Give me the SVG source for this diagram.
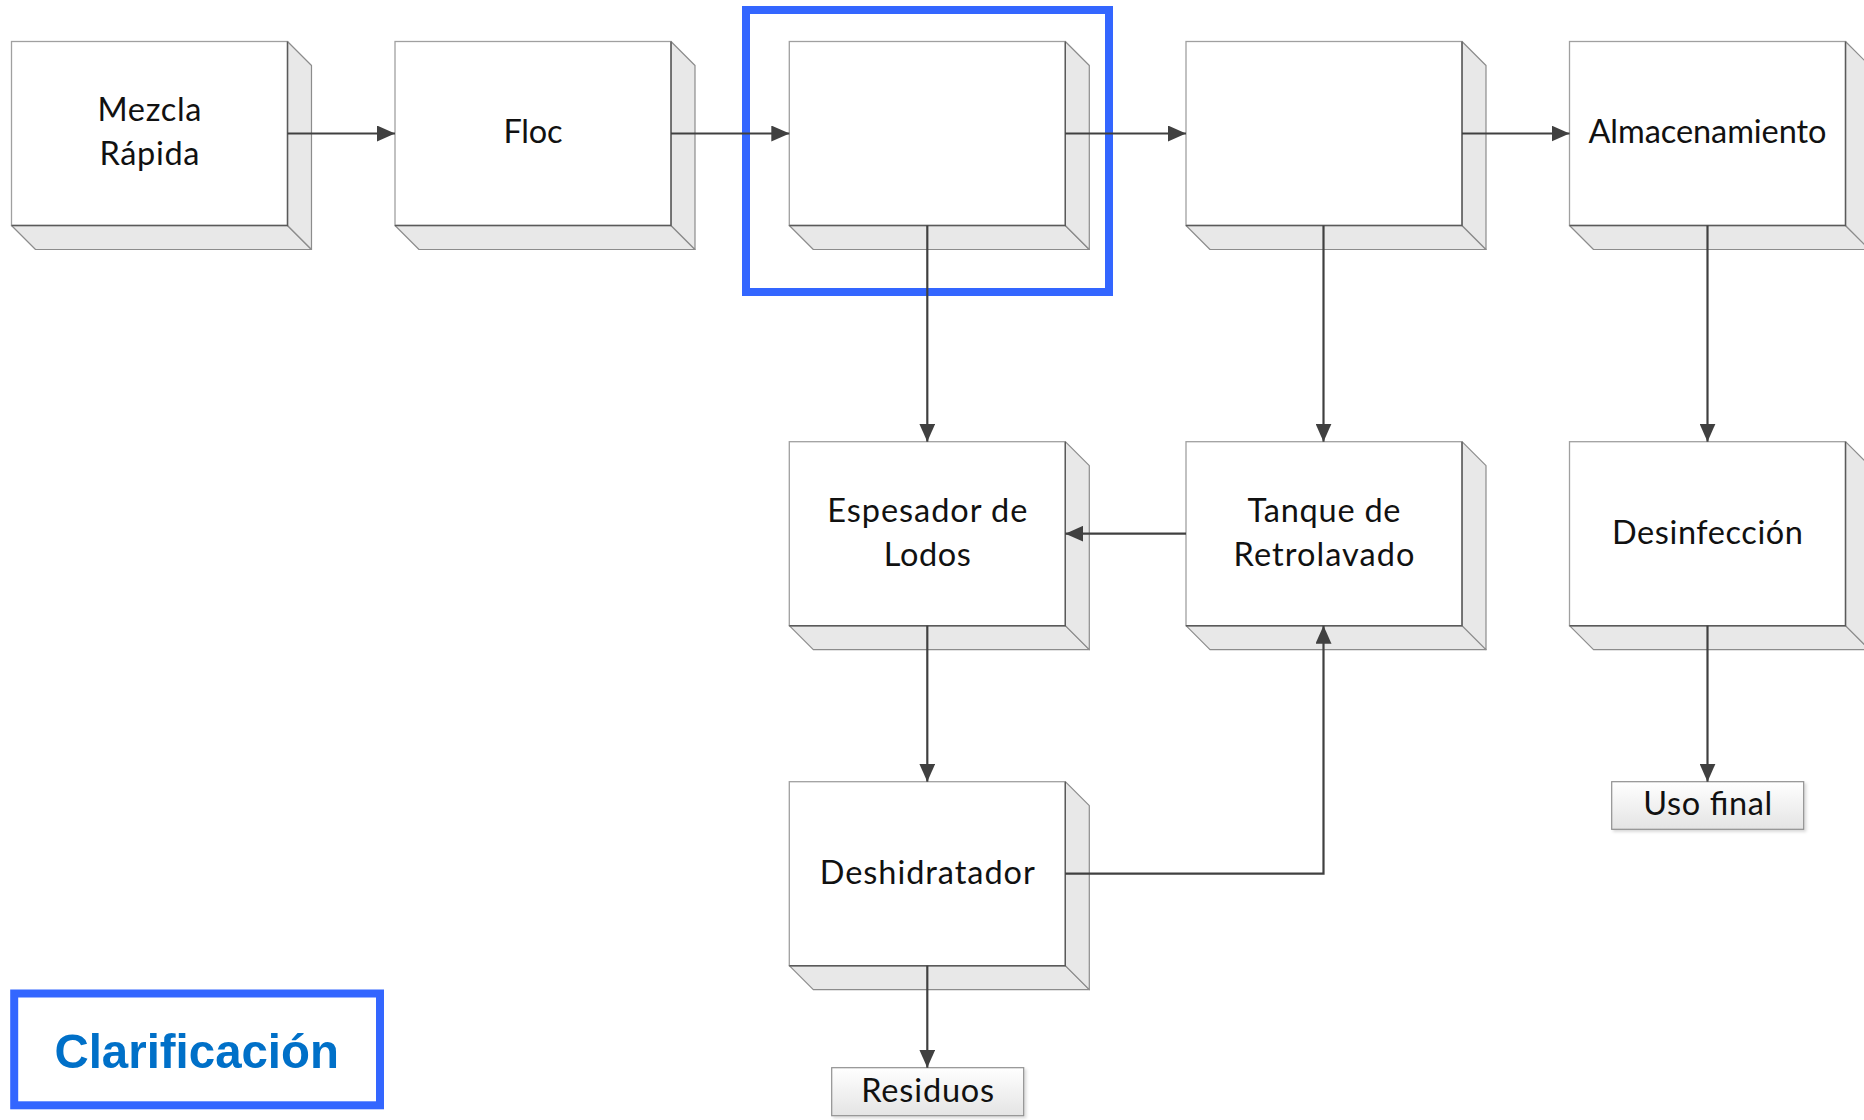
<svg xmlns="http://www.w3.org/2000/svg" width="1864" height="1120" viewBox="0 0 1864 1120">
<style>
.front{fill:#ffffff;stroke:#a0a0a0;stroke-width:1.3}
.edge{stroke:#5a5a5a;stroke-width:1.4;fill:none}
.depth{fill:#e8e8e8;stroke:#8c8c8c;stroke-width:1.2;stroke-linejoin:round}
.lbl{font-family:Lato,"Open Sans",sans-serif;font-size:32.5px;fill:#111111;text-anchor:middle}
.conn{stroke:#404040;stroke-width:2.2;fill:none}
.small{fill:url(#sg);stroke:#909090;stroke-width:1.2}
.hl{fill:none;stroke:#3366ff;stroke-width:8}
</style>
<defs>
<marker id="ah" markerUnits="userSpaceOnUse" markerWidth="18" markerHeight="16" refX="18" refY="8" orient="auto">
<path d="M0,0 L18,8 L0,16 z" fill="#404040"/>
</marker>
<linearGradient id="sg" x1="0" y1="0" x2="0" y2="1">
<stop offset="0" stop-color="#ffffff"/>
<stop offset="1" stop-color="#e4e4e4"/>
</linearGradient>
<filter id="sh" x="-10%" y="-20%" width="130%" height="160%">
<feDropShadow dx="2" dy="2" stdDeviation="1.5" flood-color="#000" flood-opacity="0.15"/>
</filter>
<g id="box3d">
<polygon class="depth" points="0,184 276,184 300,208 24,208"/>
<polygon class="depth" points="276,0 300,24 300,208 276,184"/>
<rect class="front" x="0" y="0" width="276" height="184"/>
<polyline class="edge" points="0,184 276,184 276,0"/>
</g>
</defs>

<g id="node-mezcla"><use href="#box3d" x="11.5" y="41.5"/><text class="lbl" x="149.5" y="121" textLength="104">Mezcla</text><text class="lbl" x="149.5" y="165" textLength="100">Rápida</text></g>
<g id="node-floc"><use href="#box3d" x="395" y="41.5"/><text class="lbl" x="533" y="143" textLength="59">Floc</text></g>
<g id="node-clarif"><use href="#box3d" x="789.3" y="41.5"/></g>
<g id="node-filtro"><use href="#box3d" x="1186" y="41.5"/></g>
<g id="node-almac"><use href="#box3d" x="1569.5" y="41.5"/><text class="lbl" x="1707.5" y="143" textLength="238">Almacenamiento</text></g>
<g id="node-espesador"><use href="#box3d" x="789.3" y="441.7"/><text class="lbl" x="927.3" y="521.5" textLength="200">Espesador de</text><text class="lbl" x="927.3" y="565.5" textLength="87">Lodos</text></g>
<g id="node-tanque"><use href="#box3d" x="1186" y="441.7"/><text class="lbl" x="1324" y="521.5" textLength="153">Tanque de</text><text class="lbl" x="1324" y="565.5" textLength="181">Retrolavado</text></g>
<g id="node-desinf"><use href="#box3d" x="1569.5" y="441.7"/><text class="lbl" x="1707.5" y="543.5" textLength="191">Desinfección</text></g>
<g id="node-deshid"><use href="#box3d" x="789.3" y="781.7"/><text class="lbl" x="927.3" y="883.5" textLength="215">Deshidratador</text></g>
<g id="node-residuos"><rect class="small" filter="url(#sh)" x="831.7" y="1067.7" width="192" height="48"/><text class="lbl" x="927.7" y="1101.5" textLength="133">Residuos</text></g>
<g id="node-uso"><rect class="small" filter="url(#sh)" x="1611.7" y="781.7" width="192" height="47.6"/><text class="lbl" x="1707.7" y="814.5" textLength="129">Uso final</text></g>

<g id="highlight"><rect class="hl" x="746" y="10" width="363" height="282"/></g>
<g id="legend"><rect class="hl" x="14.2" y="993.5" width="365.8" height="111.8"/><text x="196.7" y="1068.3" font-family="Liberation Sans, Arial, sans-serif" font-weight="bold" font-size="49" fill="#0070c8" text-anchor="middle" textLength="284.5" lengthAdjust="spacingAndGlyphs">Clarificación</text></g>

<g id="connectors">
<line class="conn" x1="287.5" y1="133.5" x2="395" y2="133.5" marker-end="url(#ah)"/>
<line class="conn" x1="671" y1="133.5" x2="789.3" y2="133.5" marker-end="url(#ah)"/>
<line class="conn" x1="1065.3" y1="133.5" x2="1186" y2="133.5" marker-end="url(#ah)"/>
<line class="conn" x1="1462" y1="133.5" x2="1569.5" y2="133.5" marker-end="url(#ah)"/>
<line class="conn" x1="927.3" y1="225.5" x2="927.3" y2="441.7" marker-end="url(#ah)"/>
<line class="conn" x1="1323.5" y1="225.5" x2="1323.5" y2="441.7" marker-end="url(#ah)"/>
<line class="conn" x1="1707.5" y1="225.5" x2="1707.5" y2="441.7" marker-end="url(#ah)"/>
<line class="conn" x1="1186" y1="533.7" x2="1065.3" y2="533.7" marker-end="url(#ah)"/>
<line class="conn" x1="927.3" y1="625.7" x2="927.3" y2="781.7" marker-end="url(#ah)"/>
<line class="conn" x1="1707.5" y1="625.7" x2="1707.5" y2="781.7" marker-end="url(#ah)"/>
<line class="conn" x1="927.3" y1="965.7" x2="927.3" y2="1067.7" marker-end="url(#ah)"/>
<polyline class="conn" points="1065.3,873.7 1323.5,873.7 1323.5,625.7" marker-end="url(#ah)"/>
</g>
</svg>
